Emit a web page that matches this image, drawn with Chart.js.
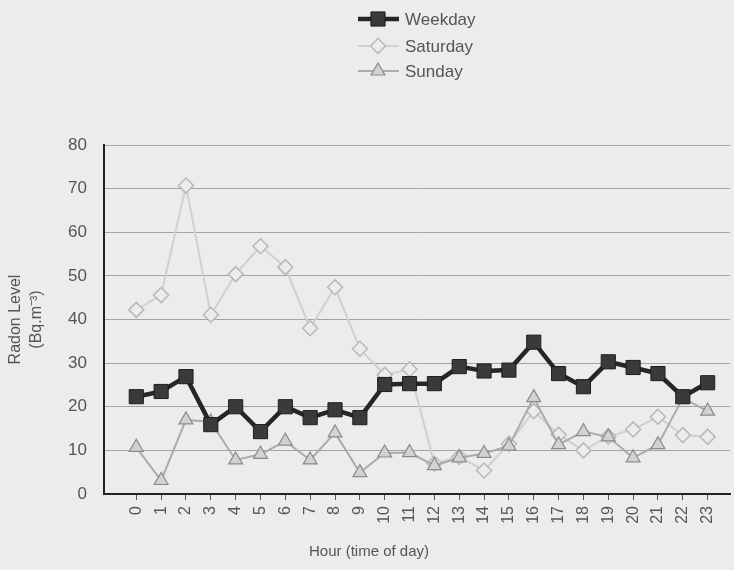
<!DOCTYPE html>
<html><head><meta charset="utf-8">
<script src="https://cdn.jsdelivr.net/npm/chart.js@4/dist/chart.umd.min.js"></script>
<style>html,body{margin:0;padding:0;background:#ececec;overflow:hidden;width:734px;height:570px}canvas{display:block}</style>
</head><body>
<canvas id="c" width="741" height="570"></canvas>
<script>
const hours = ['0','1','2','3','4','5','6','7','8','9','10','11','12','13','14','15','16','17','18','19','20','21','22','23'];
const weekday = [22.3, 23.5, 26.9, 15.9, 20, 14.3, 20, 17.5, 19.3, 17.5, 25.1, 25.3, 25.3, 29.2, 28.2, 28.4, 34.8, 27.6, 24.6, 30.3, 29, 27.6, 22.3, 25.5];
const saturday = [42.2, 45.6, 70.7, 41.1, 50.4, 56.8, 52, 38, 47.4, 33.3, 27.3, 28.6, 7, 8.5, 5.4, 11.5, 19, 13.6, 10, 13.2, 14.8, 17.7, 13.5, 13.1];
const sunday = [10.7, 3.1, 17, 16.5, 7.8, 9.1, 12.1, 7.8, 14, 4.9, 9.4, 9.5, 6.5, 8.3, 9.3, 11, 22.1, 11.3, 14.3, 13.1, 8.3, 11.3, 22, 19];
const yTicks = [0, 10, 20, 30, 40, 50, 60, 70, 80];
const seriesNames = ['Weekday', 'Saturday', 'Sunday'];
const xTitle = 'Hour (time of day)';
const yTitle = ['Radon Level', '(Bq.m\u207B\u00B3)'];

Chart.defaults.font.family = "'Liberation Sans', Arial, sans-serif";
const BG = '#ececec';
const TXT = '#555';
const toPts = arr => arr.map((v, i) => ({x: i, y: v}));

const bgPlugin = {
  id: 'bg',
  beforeDraw(chart) {
    const ctx = chart.ctx;
    ctx.save(); ctx.fillStyle = BG; ctx.fillRect(0, 0, chart.width, chart.height); ctx.restore();
  },
  afterDraw(chart) {
    const ctx = chart.ctx;
    ctx.save();
    // x axis title
    ctx.fillStyle = TXT;
    ctx.font = "15px 'Liberation Sans', Arial, sans-serif";
    ctx.textAlign = 'center'; ctx.textBaseline = 'middle';
    ctx.fillText(xTitle, 369, 552);
    // legend
    const ys = [19, 46, 71];
    chart.data.datasets.forEach((ds, i) => {
      const y = ys[i];
      ctx.strokeStyle = ds.borderColor; ctx.lineWidth = ds.borderWidth;
      ctx.beginPath(); ctx.moveTo(358, y); ctx.lineTo(399, y); ctx.stroke();
      ctx.fillStyle = ds.pointBackgroundColor; ctx.strokeStyle = ds.pointBorderColor;
      ctx.lineWidth = ds.pointBorderWidth;
      Chart.helpers.drawPoint(ctx, {pointStyle: ds.pointStyle, rotation: 0, radius: ds.pointRadius, borderWidth: ds.pointBorderWidth}, 378, y);
      ctx.fillStyle = TXT;
      ctx.font = "17px 'Liberation Sans', Arial, sans-serif";
      ctx.textAlign = 'left';
      ctx.fillText(ds.label, 405, y + 1);
    });
    ctx.restore();
  }
};

new Chart(document.getElementById('c'), {
  type: 'line',
  data: {
    datasets: [
      {label: seriesNames[0], data: toPts(weekday), borderColor: '#262626', borderWidth: 4.5,
       pointStyle: 'rect', pointRadius: 10, pointBackgroundColor: '#3a3a3a', pointBorderColor: '#1e1e1e', pointBorderWidth: 1, order: 1},
      {label: seriesNames[1], data: toPts(saturday), borderColor: '#d0d0d0', borderWidth: 2,
       pointStyle: 'rectRot', pointRadius: 7.5, pointBackgroundColor: BG, pointBorderColor: '#b8b8b8', pointBorderWidth: 1.5, order: 3},
      {label: seriesNames[2], data: toPts(sunday), borderColor: '#ababab', borderWidth: 2,
       pointStyle: 'triangle', pointRadius: 8, pointBackgroundColor: '#d2d2d2', pointBorderColor: '#8a8a8a', pointBorderWidth: 1.2, order: 2}
    ]
  },
  options: {
    responsive: false,
    animation: false,
    layout: {padding: {top: 145, right: 0, left: 0, bottom: 0}},
    plugins: {legend: {display: false}, tooltip: {enabled: false}},
    elements: {line: {tension: 0}},
    scales: {
      x: {
        type: 'linear', min: -1.3, max: 23.9,
        afterBuildTicks: s => { s.ticks = hours.map((h, i) => ({value: i})); },
        ticks: {callback: v => hours[v], minRotation: 90, maxRotation: 90, autoSkip: false, color: TXT, font: {size: 16}, padding: 6},
        grid: {drawOnChartArea: false, drawTicks: true, tickLength: 6, color: '#555', lineWidth: 1},
        border: {display: true, color: '#222', width: 2},
        afterFit: s => { s.height = 76; s.paddingRight = 0; s.paddingLeft = 0; }
      },
      y: {
        min: 0, max: 80,
        afterBuildTicks: s => { s.ticks = yTicks.map(v => ({value: v})); },
        ticks: {color: TXT, font: {size: 17}, padding: 17},
        grid: {color: '#a3a3a3', drawTicks: false, lineWidth: 1},
        border: {display: true, color: '#222', width: 2},
        title: {display: true, text: yTitle, color: TXT, font: {size: 16, lineHeight: 1.3}, padding: {top: 5, bottom: 0}},
        afterFit: s => { s.width = 104; s.paddingTop = 0; s.paddingBottom = 0; }
      }
    }
  },
  plugins: [bgPlugin]
});
</script>
</body></html>
